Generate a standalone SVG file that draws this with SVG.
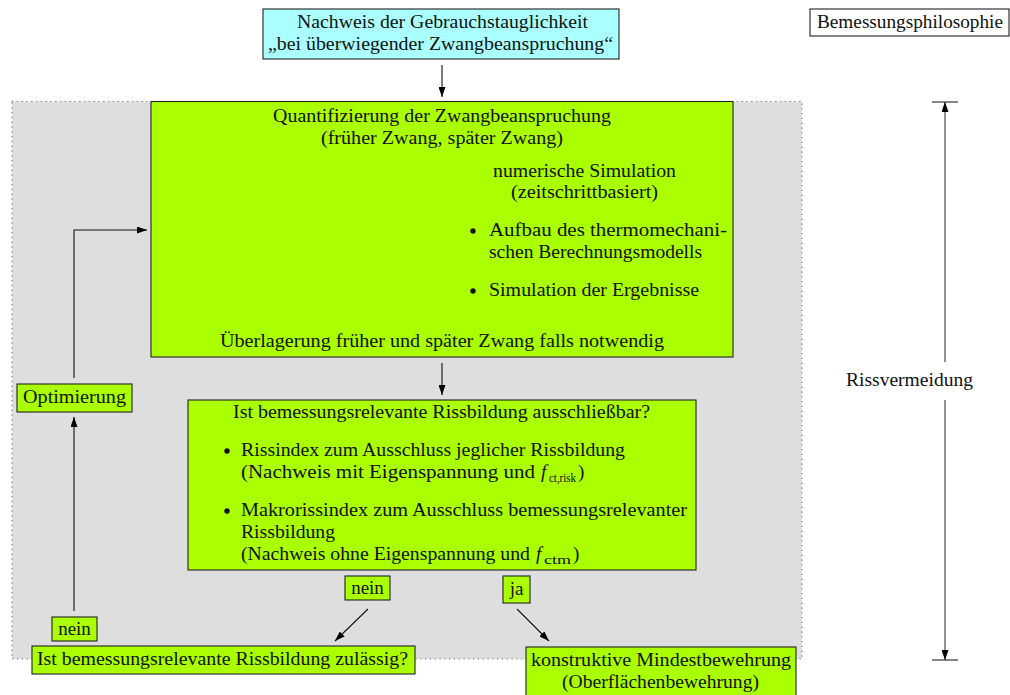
<svg xmlns="http://www.w3.org/2000/svg" width="1010" height="695" viewBox="0 0 1010 695">
<style>
.t{font-family:"Liberation Serif","DejaVu Serif","Times New Roman",serif;font-size:19px;fill:#111}
.i{font-style:italic}
.s{font-size:12px}
.box{stroke:#222;stroke-width:1.1}
.g{fill:#aaff00}
.c{fill:#aaffff}
.w{fill:#ffffff}
.con{fill:none;stroke:#111;stroke-width:1.1}
.dim{fill:none;stroke:#666;stroke-width:1.4}
</style>
<defs>
<marker id="ah" viewBox="0 0 10 7" markerWidth="10" markerHeight="7" refX="10" refY="3.5" orient="auto" markerUnits="userSpaceOnUse">
<path d="M0,0 L10,3.5 L0,7 z" fill="#000"/>
</marker>
</defs>
<rect id="region" x="12" y="101.5" width="790" height="557.5" fill="#dedede" stroke="#777" stroke-width="1.2" stroke-dasharray="1.2,3.6"/>
<g id="nachweis">
<rect class="box c" x="263" y="9" width="356" height="50"/>
<text class="t" x="297" y="28" textLength="291" lengthAdjust="spacingAndGlyphs">Nachweis der Gebrauchstauglichkeit</text>
<text class="t" x="268" y="50" textLength="345" lengthAdjust="spacingAndGlyphs">„bei überwiegender Zwangbeanspruchung“</text>
</g>
<g id="philosophie">
<rect class="box w" x="810" y="9" width="199" height="27"/>
<text class="t" x="817" y="28" textLength="186" lengthAdjust="spacingAndGlyphs">Bemessungsphilosophie</text>
</g>
<g id="quantifizierung">
<rect class="box g" x="151" y="101.5" width="582" height="255.5"/>
<text class="t" x="273" y="122" textLength="338" lengthAdjust="spacingAndGlyphs">Quantifizierung der Zwangbeanspruchung</text>
<text class="t" x="321" y="144" textLength="242" lengthAdjust="spacingAndGlyphs">(früher Zwang, später Zwang)</text>
<text class="t" x="493" y="177" textLength="183" lengthAdjust="spacingAndGlyphs">numerische Simulation</text>
<text class="t" x="511" y="198" textLength="147" lengthAdjust="spacingAndGlyphs">(zeitschrittbasiert)</text>
<circle cx="473" cy="231" r="2.7" fill="#111"/>
<text class="t" x="489" y="236" textLength="238" lengthAdjust="spacingAndGlyphs">Aufbau des thermomechani-</text>
<text class="t" x="489" y="258" textLength="213" lengthAdjust="spacingAndGlyphs">schen Berechnungsmodells</text>
<circle cx="473" cy="291" r="2.7" fill="#111"/>
<text class="t" x="489" y="296" textLength="210" lengthAdjust="spacingAndGlyphs">Simulation der Ergebnisse</text>
<text class="t" x="220" y="347" textLength="444" lengthAdjust="spacingAndGlyphs">Überlagerung früher und später Zwang falls notwendig</text>
</g>
<g id="ausschliessbar">
<rect class="box g" x="188" y="400" width="508" height="170"/>
<text class="t" x="233" y="418" textLength="417" lengthAdjust="spacingAndGlyphs">Ist bemessungsrelevante Rissbildung ausschließbar?</text>
<circle cx="227" cy="451" r="2.7" fill="#111"/>
<text class="t" x="241" y="456" textLength="384" lengthAdjust="spacingAndGlyphs">Rissindex zum Ausschluss jeglicher Rissbildung</text>
<text class="t" x="241" y="478" textLength="294" lengthAdjust="spacingAndGlyphs">(Nachweis mit Eigenspannung und</text>
<text class="t i" x="541" y="478">f</text>
<text class="t s" x="549" y="482" textLength="27" lengthAdjust="spacingAndGlyphs">ct,risk</text>
<text class="t" x="578" y="478">)</text>
<circle cx="227" cy="511" r="2.7" fill="#111"/>
<text class="t" x="241" y="516" textLength="446" lengthAdjust="spacingAndGlyphs">Makrorissindex zum Ausschluss bemessungsrelevanter</text>
<text class="t" x="241" y="538" textLength="94" lengthAdjust="spacingAndGlyphs">Rissbildung</text>
<text class="t" x="241" y="560" textLength="289" lengthAdjust="spacingAndGlyphs">(Nachweis ohne Eigenspannung und</text>
<text class="t i" x="536" y="560">f</text>
<text class="t s" x="544" y="564" textLength="27" lengthAdjust="spacingAndGlyphs">ctm</text>
<text class="t" x="573" y="560">)</text>
</g>
<g id="nein1">
<rect class="box g" x="345" y="576" width="45" height="24"/>
<text class="t" x="367.5" y="594" text-anchor="middle">nein</text>
</g>
<g id="ja">
<rect class="box g" x="503" y="576" width="27" height="27"/>
<text class="t" x="516.5" y="595" text-anchor="middle">ja</text>
</g>
<g id="nein2">
<rect class="box g" x="52" y="617" width="45" height="24"/>
<text class="t" x="74.5" y="635" text-anchor="middle">nein</text>
</g>
<g id="optimierung">
<rect class="box g" x="17" y="384" width="115" height="28"/>
<text class="t" x="23" y="403" textLength="103" lengthAdjust="spacingAndGlyphs">Optimierung</text>
</g>
<g id="zulaessig">
<rect class="box g" x="32" y="646" width="383" height="28"/>
<text class="t" x="37" y="665" textLength="371" lengthAdjust="spacingAndGlyphs">Ist bemessungsrelevante Rissbildung zulässig?</text>
</g>
<g id="mindestbewehrung">
<rect class="box g" x="526" y="647" width="270" height="55"/>
<text class="t" x="531" y="666" textLength="260" lengthAdjust="spacingAndGlyphs">konstruktive Mindestbewehrung</text>
<text class="t" x="562" y="688" textLength="197" lengthAdjust="spacingAndGlyphs">(Oberflächenbewehrung)</text>
</g>
<g id="rissvermeidung">
<text class="t" x="846" y="386" textLength="127" lengthAdjust="spacingAndGlyphs">Rissvermeidung</text>
</g>
<g id="connectors">
<path class="con" d="M442,65 L442,97" marker-end="url(#ah)"/>
<path class="con" d="M442,363 L442,395" marker-end="url(#ah)"/>
<path class="con" d="M368,609 L335,641" marker-end="url(#ah)"/>
<path class="con" d="M517,609 L549,641" marker-end="url(#ah)"/>
<path class="con" d="M74,611 L74,417" marker-end="url(#ah)"/>
<path class="con" d="M74,378 L74,230 L147,230" marker-end="url(#ah)"/>
<path class="dim" d="M945,362 L945,102" marker-end="url(#ah)"/>
<path class="dim" d="M945,400 L945,660" marker-end="url(#ah)"/>
<path class="con" d="M932,102 L958,102 M932,660 L958,660"/>
</g>
</svg>
